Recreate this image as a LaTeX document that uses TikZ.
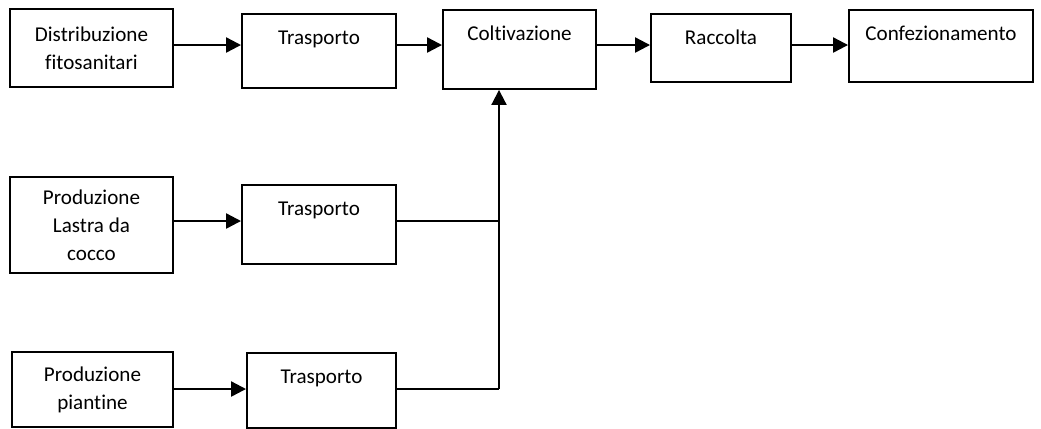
\documentclass[tikz,border=0pt]{standalone}
\usepackage{fontspec}
\setmainfont{Carlito}[Ligatures=NoCommon]
\usetikzlibrary{arrows.meta}

\begin{document}
\begin{tikzpicture}[x=1cm,y=1cm,
  box/.style={draw,line width=1.1pt,inner sep=0pt,align=center,font=\fontsize{12}{16}\selectfont},
  topbox/.style={box,anchor=north,text height=0.62cm,text depth=#1},
  arr/.style={line width=1.3pt,-{Triangle[length=0.3cm,width=0.3cm]}},
  link/.style={line width=0.85pt}]
\useasboundingbox (0,0) rectangle (20.82,-8.56);
% upper row
\node[box,minimum width=3.26cm,minimum height=1.56cm] (distr) at (1.83,-0.96) {Distribuzione\\fitosanitari};
\node[topbox=0.86cm,minimum width=3.08cm] (trasp1) at (6.38,-0.26) {Trasporto};
\node[topbox=0.96cm,minimum width=3.06cm] (colt) at (10.39,-0.18) {Coltivazione};
\node[topbox=0.74cm,minimum width=2.80cm] (racc) at (14.42,-0.26) {Raccolta};
\node[topbox=0.82cm,minimum width=3.68cm] (conf) at (18.82,-0.18) {Confezionamento};
% middle and lower rows
\node[box,minimum width=3.26cm,minimum height=1.92cm] (lastra) at (1.83,-4.50) {Produzione\\Lastra da\\cocco};
\node[topbox=0.96cm,minimum width=3.08cm] (trasp2) at (6.38,-3.68) {Trasporto};
\node[box,minimum width=3.22cm,minimum height=1.50cm] (piant) at (1.85,-7.79) {Produzione\\piantine};
\node[topbox=0.88cm,minimum width=2.98cm] (trasp3) at (6.43,-7.04) {Trasporto};
\coordinate (row1) at (0,-0.90);
\coordinate (row3) at (0,-7.78);
\coordinate (bus) at (9.98,-4.42);
\draw[arr] (distr.east |- row1) -- (trasp1.west |- row1);
\draw[arr] (trasp1.east |- row1) -- (colt.west |- row1);
\draw[arr] (colt.east |- row1) -- (racc.west |- row1);
\draw[arr] (racc.east |- row1) -- (conf.west |- row1);
\draw[arr] (lastra.east |- bus) -- (trasp2.west |- bus);
\draw[arr] (piant.east |- row3) -- (trasp3.west |- row3);
\draw[link] (trasp2.east |- bus) -- (bus);
\draw[link] (trasp3.east |- row3) -- (bus |- row3);
\draw[arr,line width=1.1pt] (bus |- row3) -- (bus |- colt.south);
\end{tikzpicture}
\end{document}
